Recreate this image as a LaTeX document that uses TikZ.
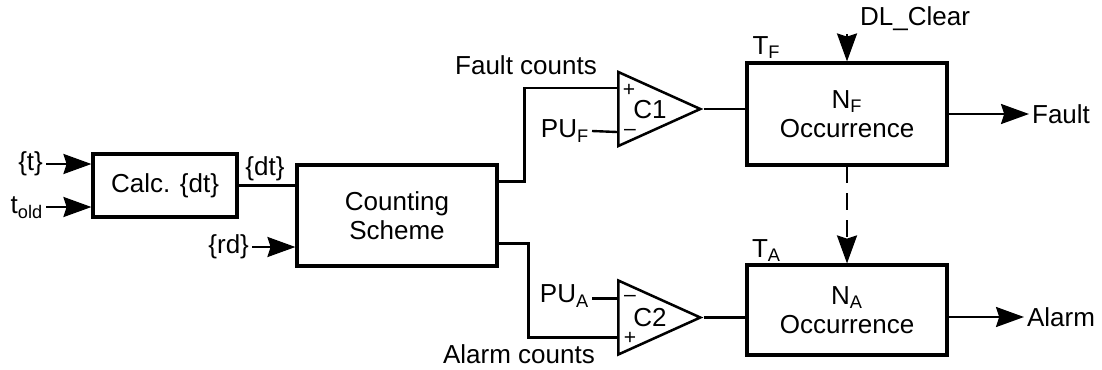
\documentclass[tikz,border=0pt]{standalone}
\usepackage{fontspec}
\setmainfont{Liberation Sans}
\usetikzlibrary{arrows.meta, positioning, shapes.geometric, calc}

\begin{document}
\begin{tikzpicture}[
  x=0.025cm, y=-0.025cm,
  font=\fontsize{18.5}{21}\selectfont,
  block/.style={draw, line width=2.2pt, minimum width=5cm, align=center, inner sep=0pt},
  comp/.style={draw, line width=1.8pt, isosceles triangle, isosceles triangle stretches,
               minimum width=1.85cm, minimum height=2.05cm, inner sep=0pt, anchor=west},
  wire/.style={line width=1.7pt},
  arrow/.style={line width=1.7pt, -{Stealth[length=7mm, width=5mm, inset=0.8mm]}},
  lbl/.style={inner sep=2pt},
  sgn/.style={inner sep=0pt, font=\fontsize{15}{16}\selectfont}
]
  \useasboundingbox (0,0) rectangle (1102,369);

  % blocks
  \node[block, minimum width=3.6cm, minimum height=1.575cm] (calc) at (165,185.5) {Calc. \{dt\}};
  \node[block, minimum height=2.525cm] (count) at (397,215.5) {Counting\\Scheme};
  \node[block, minimum height=2.55cm] (nf) at (847,114) {N\textsubscript{F}\\Occurrence};
  \node[block, minimum height=2.25cm] (na) at (847,310) {N\textsubscript{A}\\Occurrence};
  \node[comp] (c1) at (617,109) {};
  \node[comp] (c2) at (617,317.5) {};

  % comparator inputs and signs
  \coordinate (c1p) at ($(c1.west)+(0,-21)$);
  \coordinate (c1m) at ($(c1.west)+(0,23)$);
  \coordinate (c2m) at ($(c2.west)+(0,-19)$);
  \coordinate (c2p) at ($(c2.west)+(0,20)$);
  \node[sgn] (c1ps) at ($(c1p)+(12,2)$) {+};
  \node[sgn] (c1ms) at ($(c1m)+(13,0)$) {--};
  \node[sgn] (c2ms) at ($(c2m)+(13,0)$) {--};
  \node[sgn] (c2ps) at ($(c2p)+(13,1)$) {+};
  \node[lbl] (c1l) at ($(c1.west)+(33,1)$) {C1};
  \node[lbl] (c2l) at ($(c2.west)+(33,0)$) {C2};

  % inputs
  \node[lbl, anchor=east] (tin) at (46,164) {\{t\}};
  \node[lbl, anchor=east] (told) at (46,208) {t\textsubscript{old}};
  \node[lbl, anchor=east] (rd) at (252,247) {\{rd\}};
  \node[lbl] (dt) at (265,169) {\{dt\}};
  \node[lbl, anchor=east] (puf) at (592,131) {PU\textsubscript{F}};
  \node[lbl, anchor=east] (pua) at (592,296) {PU\textsubscript{A}};
  \node[lbl] (fc) at (526,65) {Fault counts};
  \node[lbl] (ac) at (519,354) {Alarm counts};
  \node[lbl] (tf) at ($(nf.north west)+(21,-14)$) {T\textsubscript{F}};
  \node[lbl] (ta) at ($(na.north west)+(21,-13)$) {T\textsubscript{A}};
  \node[lbl, anchor=west] (dlc) at (857,19) {DL\_Clear};

  % outputs
  \node[lbl, anchor=west] (fault) at (1029,114) {Fault};
  \node[lbl, anchor=west] (alarm) at (1024,317) {Alarm};

  % connectors
  \draw[arrow] (tin.east) -- (tin.east -| calc.west);
  \draw[arrow] ($(told.east)+(0,-1)$) -- ($(told.east -| calc.west)+(0,-1)$);
  \draw[arrow] (rd.east) -- (rd.east -| count.west);
  \draw[wire] (calc.east) -- (calc.east -| count.west);
  \draw[wire] ($(count.north east)+(0,18)$) -- ++(26,0) |- (c1p);
  \draw[wire] ($(count.south east)+(0,-24)$) -- ++(30,0) |- (c2p);
  \draw[wire] (puf.east) -- (c1m);
  \draw[wire] (pua.east |- c2m) -- (c2m);
  \draw[wire] (c1.east) -- (c1.east -| nf.west);
  \draw[wire] (c2.east) -- (c2.east -| na.west);
  \draw[arrow] (nf.north |- dlc.south) -- (nf.north);
  \draw[arrow, dash pattern=on 0.42cm off 0.25cm] (nf.south) -- (na.north);
  \draw[arrow] (nf.east) -- (fault.west);
  \draw[arrow] (alarm.west -| na.east) -- (alarm.west);
\end{tikzpicture}
\end{document}
